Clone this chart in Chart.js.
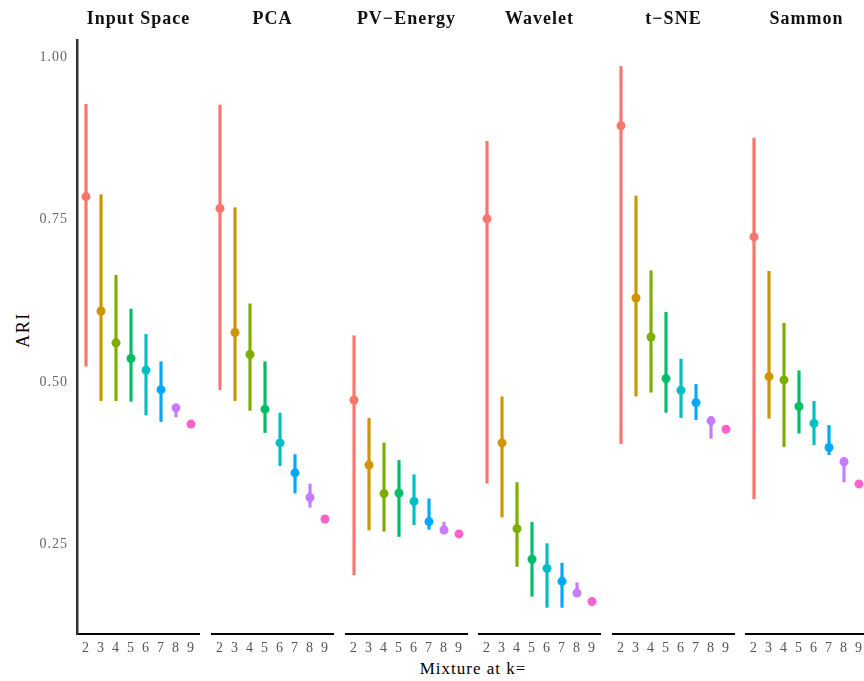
<!DOCTYPE html>
<html>
<head>
<meta charset="utf-8">
<script src="https://cdn.jsdelivr.net/npm/chart.js@4.4.1/dist/chart.umd.min.js"></script>
<style>
  body { margin: 0; background: #fff; }
  #wrap { position: relative; width: 864px; height: 681px; overflow: hidden; background: #fff; }
  .panel { position: absolute; top: 0; }
  .lbl { position: absolute; font-family: "Liberation Serif", serif; color: #000; letter-spacing: 1px; white-space: nowrap; line-height: 1; }
</style>
</head>
<body>
<div id="wrap">
  <div class="lbl" style="left:473px; top:660px; font-size:17px; transform:translateX(-50%);">Mixture at k=</div>
  <div class="lbl" style="left:23px; top:330px; font-size:18px; letter-spacing:1.5px; transform:translate(-50%,-50%) rotate(-90deg);">ARI</div>
</div>
<script>
const ks = [2, 3, 4, 5, 6, 7, 8, 9];
const panels = ["Input Space", "PCA", "PV\u2212Energy", "Wavelet", "t\u2212SNE", "Sammon"];
const yTicks = [0.25, 0.5, 0.75, 1.0];

const inputMean = [0.785, 0.609, 0.560, 0.536, 0.518, 0.488, 0.460, 0.435];
const inputLow  = [0.524, 0.471, 0.471, 0.470, 0.449, 0.439, 0.446, 0.431];
const inputHigh = [0.927, 0.788, 0.664, 0.612, 0.573, 0.531, 0.465, 0.439];

const pcaMean = [0.767, 0.576, 0.542, 0.458, 0.406, 0.360, 0.322, 0.289];
const pcaLow  = [0.488, 0.471, 0.456, 0.422, 0.371, 0.329, 0.307, 0.286];
const pcaHigh = [0.926, 0.768, 0.620, 0.531, 0.452, 0.388, 0.343, 0.292];

const pvMean = [0.472, 0.372, 0.328, 0.329, 0.316, 0.285, 0.272, 0.266];
const pvLow  = [0.203, 0.272, 0.270, 0.262, 0.280, 0.273, 0.268, 0.263];
const pvHigh = [0.571, 0.444, 0.406, 0.379, 0.357, 0.320, 0.284, 0.269];

const waveMean = [0.751, 0.406, 0.274, 0.227, 0.213, 0.193, 0.175, 0.162];
const waveLow  = [0.344, 0.292, 0.216, 0.170, 0.153, 0.153, 0.170, 0.159];
const waveHigh = [0.870, 0.477, 0.345, 0.284, 0.251, 0.221, 0.191, 0.165];

const tsneMean = [0.894, 0.629, 0.569, 0.505, 0.487, 0.468, 0.440, 0.427];
const tsneLow  = [0.405, 0.478, 0.484, 0.453, 0.445, 0.442, 0.413, 0.424];
const tsneHigh = [0.985, 0.786, 0.671, 0.607, 0.535, 0.496, 0.447, 0.430];

const sammonMean = [0.723, 0.508, 0.503, 0.462, 0.436, 0.399, 0.377, 0.343];
const sammonLow  = [0.320, 0.444, 0.400, 0.421, 0.403, 0.388, 0.346, 0.340];
const sammonHigh = [0.875, 0.670, 0.590, 0.517, 0.470, 0.433, 0.384, 0.346];

const means = [inputMean, pcaMean, pvMean, waveMean, tsneMean, sammonMean];
const lows = [inputLow, pcaLow, pvLow, waveLow, tsneLow, sammonLow];
const highs = [inputHigh, pcaHigh, pvHigh, waveHigh, tsneHigh, sammonHigh];

// ggplot default hue palette, 8 levels
const colors = ["#F8766D", "#CD9600", "#7CAE00", "#00BE67", "#00BFC4", "#00A9FF", "#C77CFF", "#FF61CC"];

const lefts = [0, 211, 345, 478, 612, 745];
const serif = "'Liberation Serif', 'Times New Roman', serif";

// wider text like the original render
const spacing = {
  id: "spacing",
  beforeLayout: c => { c.ctx.letterSpacing = "1px"; },
  beforeDraw: c => { c.ctx.letterSpacing = "1px"; }
};

const wrap = document.getElementById("wrap");

panels.forEach((name, p) => {
  const first = p === 0;
  const w = first ? 200 : 123;
  const div = document.createElement("div");
  div.className = "panel";
  div.style.left = lefts[p] + "px";
  const cv = document.createElement("canvas");
  cv.width = w;
  cv.height = 681;
  div.appendChild(cv);
  wrap.appendChild(div);

  new Chart(cv.getContext("2d"), {
    plugins: [spacing],
    data: {
      datasets: [
        {
          type: "line",
          data: ks.map((k, i) => ({ x: k, y: means[p][i] })),
          showLine: false,
          clip: false,
          pointRadius: 4.5,
          pointBorderWidth: 0,
          pointBackgroundColor: colors,
          order: 0
        },
        {
          type: "bar",
          data: ks.map((k, i) => ({ x: k, y: [lows[p][i], highs[p][i]] })),
          backgroundColor: colors,
          barThickness: 2.5,
          order: 1
        }
      ]
    },
    options: {
      responsive: false,
      animation: false,
      layout: { padding: 0, autoPadding: false },
      plugins: {
        legend: { display: false },
        tooltip: { enabled: false },
        title: {
          display: true,
          fullSize: false,
          text: name,
          color: "#111",
          font: { family: serif, size: 18, weight: "bold" },
          padding: { top: 9, bottom: 9.4 }
        }
      },
      scales: {
        x: {
          type: "linear",
          min: 1.4,
          max: 9.6,
          offset: false,
          grid: { display: false, drawTicks: false },
          border: { display: true, color: "#000", width: 2 },
          afterBuildTicks: s => { s.ticks = ks.map(v => ({ value: v })); },
          ticks: {
            color: "#555",
            font: { family: serif, size: 14 },
            padding: 6,
            maxRotation: 0,
            autoSkip: false
          },
          afterFit: s => { s.height = 47; s.paddingLeft = 0; s.paddingRight = 0; }
        },
        y: {
          display: first,
          min: 0.112,
          max: 1.026,
          grid: { display: false, drawTicks: false },
          border: { display: true, color: "#333", width: 2.5 },
          afterBuildTicks: s => { s.ticks = yTicks.map(v => ({ value: v })); },
          ticks: {
            color: "#666",
            font: { family: serif, size: 14 },
            padding: 9,
            callback: v => Number(v).toFixed(2)
          },
          afterFit: s => {
            if (first) s.width = 77;
            s.paddingTop = 0;
            s.paddingBottom = 0;
          }
        }
      }
    }
  });
});
</script>
</body>
</html>
